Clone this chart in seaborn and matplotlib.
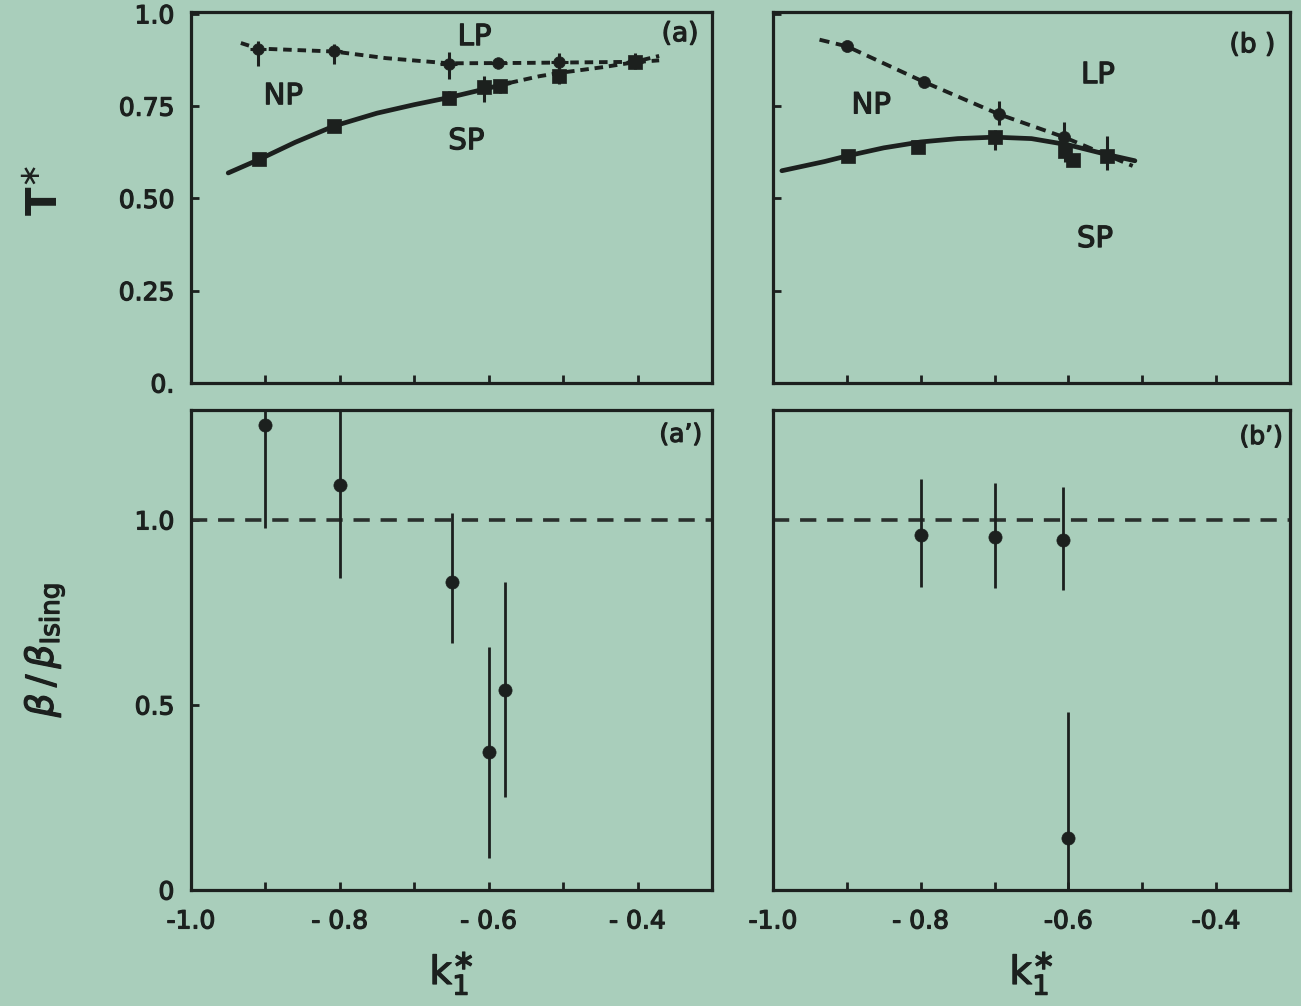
import numpy as np
import pandas as pd
import matplotlib
matplotlib.use("Agg")
import matplotlib.pyplot as plt
import matplotlib.patheffects as pe
import seaborn as sns

# ---------------- data ----------------
# panel (a): LP/NP boundary (circles) and SP boundary (squares)
a_lp_x = [-0.910, -0.808, -0.654, -0.587, -0.505, -0.404]
a_lp_y = [0.904, 0.899, 0.864, 0.867, 0.869, 0.869]
a_lp_lo = [0.859, 0.864, 0.823, 0.855, 0.850, 0.850]
a_lp_hi = [0.926, 0.918, 0.896, 0.880, 0.895, 0.895]

a_sp_x = [-0.908, -0.808, -0.654, -0.606, -0.585, -0.505, -0.404]
a_sp_y = [0.606, 0.696, 0.772, 0.801, 0.804, 0.831, 0.869]
a_sp_lo = [0.590, 0.680, 0.755, 0.761, 0.785, 0.810, 0.855]
a_sp_hi = [0.622, 0.712, 0.790, 0.831, 0.822, 0.850, 0.885]

# boundary curves (a)
a_dash_x = [-0.933, -0.910, -0.808, -0.738, -0.654, -0.559, -0.505, -0.404, -0.371]
a_dash_y = [0.921, 0.906, 0.898, 0.880, 0.866, 0.867, 0.868, 0.870, 0.886]
a_solid_x = [-0.950, -0.908, -0.860, -0.808, -0.750, -0.700, -0.654, -0.610, -0.572]
a_solid_y = [0.569, 0.606, 0.652, 0.696, 0.731, 0.754, 0.773, 0.794, 0.813]
a_dash2_x = [-0.572, -0.532, -0.505, -0.445, -0.404, -0.371]
a_dash2_y = [0.813, 0.831, 0.840, 0.856, 0.869, 0.874]

# panel (b)
b_lp_x = [-0.900, -0.795, -0.694, -0.606]
b_lp_y = [0.912, 0.815, 0.728, 0.666]
b_lp_lo = [0.900, 0.803, 0.699, 0.631]
b_lp_hi = [0.924, 0.827, 0.764, 0.707]

b_sp_x = [-0.899, -0.803, -0.699, -0.604, -0.594, -0.548]
b_sp_y = [0.615, 0.639, 0.666, 0.628, 0.604, 0.615]
b_sp_lo = [0.603, 0.627, 0.631, 0.600, 0.590, 0.577]
b_sp_hi = [0.627, 0.651, 0.685, 0.660, 0.618, 0.669]

b_dash_x = [-0.937, -0.900, -0.795, -0.694, -0.606, -0.513]
b_dash_y = [0.930, 0.912, 0.815, 0.728, 0.666, 0.588]
b_solid_x = [-0.988, -0.930, -0.900, -0.850, -0.800, -0.750, -0.700, -0.650, -0.600, -0.550, -0.510]
b_solid_y = [0.575, 0.600, 0.615, 0.637, 0.653, 0.662, 0.666, 0.662, 0.645, 0.620, 0.602]

# panel (a'): beta / beta_Ising
ap_x = [-0.900, -0.800, -0.650, -0.600, -0.578]
ap_y = [1.257, 1.095, 0.832, 0.373, 0.540]
ap_lo = [0.978, 0.843, 0.668, 0.086, 0.251]
ap_hi = [1.400, 1.400, 1.019, 0.657, 0.832]

# panel (b')
bp_x = [-0.800, -0.700, -0.608, -0.600]
bp_y = [0.960, 0.955, 0.946, 0.140]
bp_lo = [0.820, 0.815, 0.810, 0.000]
bp_hi = [1.110, 1.100, 1.090, 0.480]

ising_level = [1.0]

top_yticks = [0.0, 0.25, 0.50, 0.75, 1.0]
top_yticklabels = ["0.", "0.25", "0.50", "0.75", "1.0"]
bot_yticks = [0.0, 0.5, 1.0]
bot_yticklabels = ["0", "0.5", "1.0"]
xticks = [-1.0, -0.9, -0.8, -0.7, -0.6, -0.5, -0.4]
left_xticklabels = ["-1.0", "", "- 0.8", "", "- 0.6", "", "- 0.4"]
right_xticklabels = ["-1.0", "", "- 0.8", "", "-0.6", "", "-0.4"]

# ---------------- style ----------------
BG = "#a9cebb"
INK = "#1c201e"
sns.set_theme(style="ticks", rc={
    "figure.facecolor": BG, "axes.facecolor": BG, "savefig.facecolor": BG,
    "axes.edgecolor": INK, "axes.linewidth": 2.2,
    "xtick.color": INK, "ytick.color": INK, "text.color": INK,
    "axes.labelcolor": INK,
    "xtick.direction": "in", "ytick.direction": "in",
    "xtick.major.size": 6, "ytick.major.size": 6,
    "xtick.major.width": 2.0, "ytick.major.width": 2.0,
    "xtick.major.pad": 14, "ytick.major.pad": 12,
})
plt.rcParams["font.family"] = ["Liberation Sans Narrow", "DejaVu Sans"]
plt.rcParams["mathtext.fontset"] = "dejavusans"

THICK = [pe.withStroke(linewidth=0.9, foreground=INK)]

fig = plt.figure(figsize=(13.01, 10.06), dpi=100)
W, H = 1301.0, 1006.0

def add_ax(l, t, r, b):
    return fig.add_axes([l / W, 1 - b / H, (r - l) / W, (b - t) / H])

ax_a = add_ax(191, 12, 712, 383)
ax_b = add_ax(773, 12, 1290, 383)
ax_ap = add_ax(191, 410, 712, 890)
ax_bp = add_ax(773, 410, 1290, 890)

TICKFS = 18
LBLFS = 21

def draw_line(ax, xs, ys, dashed=False, lw=3.0, dash=(2.6, 1.6)):
    df = pd.DataFrame({"x": xs, "y": ys})
    ls = (0, dash) if dashed else "-"
    sns.lineplot(data=df, x="x", y="y", ax=ax, sort=False, estimator=None,
                 color=INK, lw=lw, linestyle=ls, legend=False)

def draw_pts(ax, xs, ys, lo, hi, marker, size, xerr=None, elw=2.0):
    ys_a = np.array(ys)
    yerr = np.vstack([ys_a - np.array(lo), np.array(hi) - ys_a])
    ax.errorbar(xs, ys, yerr=yerr, xerr=xerr, fmt="none", ecolor=INK,
                elinewidth=elw, capsize=0)
    df = pd.DataFrame({"x": xs, "y": ys})
    sns.scatterplot(data=df, x="x", y="y", ax=ax, marker=marker, s=size,
                    color=INK, edgecolor=INK, linewidth=0.5, legend=False, zorder=5)

# ---- panel (a)
draw_line(ax_a, a_dash_x, a_dash_y, dashed=True, lw=2.8, dash=(2.2, 1.5))
draw_line(ax_a, a_dash2_x, a_dash2_y, dashed=True, lw=2.8, dash=(2.2, 1.5))
draw_line(ax_a, a_solid_x, a_solid_y, lw=3.4)
draw_pts(ax_a, a_lp_x, a_lp_y, a_lp_lo, a_lp_hi, "o", 70, xerr=0.011, elw=2.2)
draw_pts(ax_a, a_sp_x, a_sp_y, a_sp_lo, a_sp_hi, "s", 95, xerr=0.008, elw=2.2)

# ---- panel (b)
draw_line(ax_b, b_dash_x, b_dash_y, dashed=True, lw=2.8, dash=(2.6, 1.7))
draw_line(ax_b, b_solid_x, b_solid_y, lw=3.4)
draw_pts(ax_b, b_lp_x, b_lp_y, b_lp_lo, b_lp_hi, "o", 75, elw=2.2)
draw_pts(ax_b, b_sp_x, b_sp_y, b_sp_lo, b_sp_hi, "s", 95, elw=2.2)

# ---- panel (a') and (b')
for ax, xs, ys, lo, hi in [(ax_ap, ap_x, ap_y, ap_lo, ap_hi),
                            (ax_bp, bp_x, bp_y, bp_lo, bp_hi)]:
    ax.axhline(ising_level[0], color="#2a302d", lw=2.6, linestyle=(0, (4.5, 3.0)), zorder=1)
    draw_pts(ax, xs, ys, lo, hi, "o", 90, elw=2.0)

# ---- axes formatting
for ax in (ax_a, ax_b):
    ax.set_xlim(-1.0, -0.3)
    ax.set_ylim(0, 1.005)
    ax.set_yticks(top_yticks)
    ax.set_xticks(xticks)
    ax.set_xticklabels([])
ax_a.set_yticklabels(top_yticklabels, fontsize=TICKFS)
ax_b.set_yticklabels([])

for ax, labels in ((ax_ap, left_xticklabels), (ax_bp, right_xticklabels)):
    ax.set_xlim(-1.0, -0.3)
    ax.set_ylim(0, 1.297)
    ax.set_xticks(xticks)
    ax.set_xticklabels(labels, fontsize=TICKFS)
    ax.set_xlabel(r"$\mathrm{k}_\mathrm{1}^{\ast}$", fontsize=28, labelpad=12)
    ax.xaxis.label.set_path_effects(THICK)
ax_ap.set_yticks(bot_yticks)
ax_ap.set_yticklabels(bot_yticklabels, fontsize=TICKFS)
ax_bp.set_yticks([])

for ax in (ax_a, ax_b, ax_ap, ax_bp):
    for s in ax.spines.values():
        s.set_visible(True)
        s.set_linewidth(2.3)
        s.set_color(INK)
    ax.tick_params(top=False, right=False)
    for t in ax.get_xticklabels() + ax.get_yticklabels():
        t.set_path_effects(THICK)

for ax in (ax_a, ax_b):
    ax.set_xlabel("")
ax_a.set_ylabel("")
ax_b.set_ylabel("")
ax_bp.set_ylabel("")
ax_ap.set_ylabel("")

# phase labels
kw = dict(ha="center", va="center", path_effects=THICK)
ax_a.text(-0.619, 0.937, "LP", fontsize=LBLFS, **kw)
ax_a.text(-0.876, 0.777, "NP", fontsize=LBLFS, **kw)
ax_a.text(-0.630, 0.655, "SP", fontsize=LBLFS, **kw)
ax_a.text(-0.343, 0.945, "(a)", fontsize=LBLFS - 2, **kw)
ax_b.text(-0.560, 0.834, "LP", fontsize=LBLFS, **kw)
ax_b.text(-0.867, 0.752, "NP", fontsize=LBLFS, **kw)
ax_b.text(-0.564, 0.390, "SP", fontsize=LBLFS, **kw)
ax_b.text(-0.351, 0.915, "(b )", fontsize=LBLFS - 2, **kw)
ax_ap.text(-0.342, 1.230, "(a\u2019)", fontsize=LBLFS - 3, **kw)
ax_bp.text(-0.339, 1.224, "(b\u2019)", fontsize=LBLFS - 3, **kw)

# y-axis titles
fig.text(45 / W, 1 - 190 / H, r"$\mathbf{T}^{\ast}$", fontsize=30, rotation=90,
         ha="center", va="center")
fig.text(45 / W, 1 - 650 / H, r"$\beta\,/\,\beta_{\mathrm{Ising}}$", fontsize=27,
         rotation=90, ha="center", va="center", path_effects=THICK)

fig.savefig("out.png", dpi=100, facecolor=BG)
